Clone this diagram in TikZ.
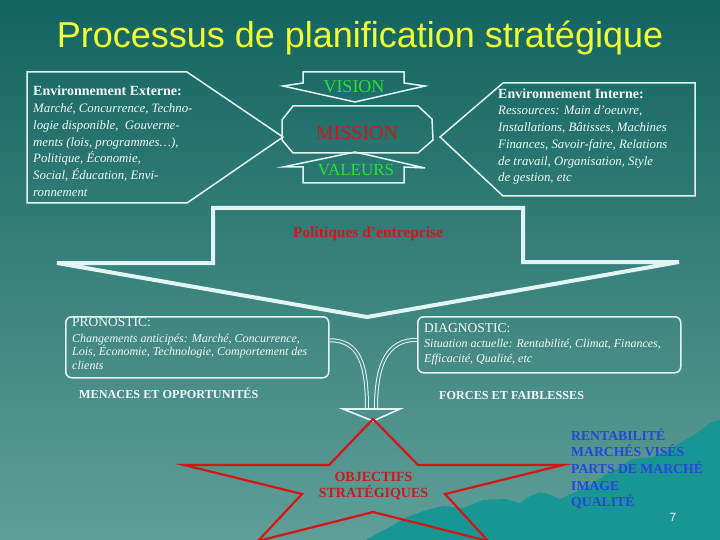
\documentclass[tikz,border=0pt]{standalone}
\usepackage{fontspec}
\setmainfont{Liberation Serif}
\newfontfamily\titlefont{Liberation Sans}
\definecolor{bgtop}{RGB}{18,100,96}
\definecolor{bgbot}{RGB}{96,158,152}
\definecolor{bgmid}{RGB}{73,141,135}
\definecolor{mount}{RGB}{24,150,148}
\definecolor{lineclr}{RGB}{225,245,245}
\definecolor{txtclr}{RGB}{240,250,250}
\definecolor{ttl}{RGB}{240,255,50}
\definecolor{grn}{RGB}{40,225,50}
\definecolor{redt}{RGB}{200,28,28}
\definecolor{starred}{RGB}{215,20,20}
\definecolor{blu}{RGB}{40,70,220}
\begin{document}
\begin{tikzpicture}[x=1pt,y=-1pt,
  outl/.style={draw=lineclr, line width=1.5pt, line join=miter},
  tx/.style={text=txtclr, inner sep=0pt, anchor=base west},
  hd/.style={tx, font=\fontsize{14}{16}\selectfont\bfseries},
  itx/.style={tx, font=\fontsize{12.8}{16}\selectfont\itshape},
  smit/.style={tx, font=\fontsize{12}{13}\selectfont\itshape},
  smhd/.style={tx, font=\fontsize{13.5}{14}\selectfont},
  capb/.style={tx, font=\fontsize{12.2}{14}\selectfont\bfseries},
  blue/.style={inner sep=0pt, anchor=base west, text=blu, font=\fontsize{13.7}{16}\selectfont\bfseries},
  curvearrow/.style={draw=lineclr, line width=1pt, double=bgmid, double distance=2pt}
]
\useasboundingbox (0,0) rectangle (720,540);
\shade[top color=bgtop, bottom color=bgbot] (0,0) rectangle (720,540);
% mountains
\fill[mount] (366,540) -- (380,532) -- (392,526) -- (405,518) -- (418,513) -- (430,509) -- (443,506) -- (463,508) -- (483,500) -- (505,499) -- (520,503) -- (530,496) -- (540,492) -- (548,494) -- (560,499) -- (575,492) -- (590,485) -- (605,475) -- (620,467) -- (632,459) -- (653,457) -- (668,450) -- (680,443) -- (697,433) -- (710,423) -- (720,420) -- (720,540) -- cycle;

% title
\node[inner sep=0pt, anchor=base, text=ttl, font=\titlefont\fontsize{36}{40}\selectfont] (title) at (360,48) {Processus de planification stratégique};

% external environment
\draw[outl] (27,72) -- (187,72) -- (283,137) -- (187,203) -- (27,203) -- cycle;
\node[hd] (extH) at (33,96) {Environnement Externe:};
\node[itx] (ext1) at (33,112.7) {Marché, Concurrence, Techno-};
\node[itx] (ext2) at (33,129.4) {logie disponible,~ Gouverne-};
\node[itx] (ext3) at (33,146.1) {ments (lois, programmes\ldots),};
\node[itx] (ext4) at (33,162.8) {Politique, Économie,};
\node[itx] (ext5) at (33,179.5) {Social, Éducation, Envi-};
\node[itx] (ext6) at (33,196.2) {ronnement};

% internal environment
\draw[outl] (503,83) -- (695,83) -- (695,196) -- (503,196) -- (440,137) -- cycle;
\node[hd] (intH) at (498,98.3) {Environnement Interne:};
\node[itx] (int1) at (498,115) {Ressources: Main d'oeuvre,};
\node[itx] (int2) at (498,131.7) {Installations, Bâtisses, Machines};
\node[itx] (int3) at (498,148.4) {Finances, Savoir-faire, Relations};
\node[itx] (int4) at (498,165.1) {de travail, Organisation, Style};
\node[itx] (int5) at (498,181.8) {de gestion, etc};

% vision / mission / valeurs
\draw[outl] (303,72) -- (404,72) -- (404,83) -- (425,86) -- (355,102) -- (283,86) -- (303,83) -- cycle;
\node[inner sep=0pt, anchor=base, text=grn, font=\fontsize{18}{20}\selectfont] (vision) at (354,92.5) {VISION};
\draw[outl] (293,106) -- (418,106) -- (432,119) -- (433,140) -- (418,153) -- (293,153) -- (282,140) -- (282,120) -- cycle;
\node[inner sep=0pt, anchor=base, text=redt, font=\fontsize{20}{22}\selectfont] (mission) at (357,140) {MISSION};
\draw[outl] (355,152) -- (425,168) -- (404,167) -- (404,183) -- (303,183) -- (303,167) -- (283,167) -- cycle;
\node[inner sep=0pt, anchor=base, text=grn, font=\fontsize{17}{19}\selectfont] (valeurs) at (356,175.5) {VALEURS};

% politiques d'entreprise big arrow
\draw[draw=lineclr, line width=4pt, line join=miter] (213,208) -- (523,208) -- (523,262) -- (679,262) -- (367,317) -- (57,263) -- (213,263) -- cycle;
\node[inner sep=0pt, anchor=base, text=redt, font=\fontsize{15.5}{17}\selectfont\bfseries] (polit) at (368,237) {Politiques d'entreprise};

% pronostic
\node[outl, rounded corners=6pt, minimum width=263pt, minimum height=61pt, anchor=north west, inner sep=0pt] (pron) at (65,316) {};
\node[smhd] (pronH) at (72,326.5) {PRONOSTIC:};
\node[smit] (pron1) at (72,342.5) {Changements anticipés: Marché, Concurrence,};
\node[smit] (pron2) at (72,355.8) {Lois, Économie, Technologie, Comportement des};
\node[smit] (pron3) at (72,369) {clients};
\node[capb] (menaces) at (79,398.5) {MENACES ET OPPORTUNITÉS};

% diagnostic
\node[outl, rounded corners=6pt, minimum width=263pt, minimum height=56pt, anchor=north west, inner sep=0pt] (diag) at (417,316) {};
\node[smhd] (diagH) at (424,332.5) {DIAGNOSTIC:};
\node[smit] (diag1) at (424,347) {Situation actuelle: Rentabilité, Climat, Finances,};
\node[smit] (diag2) at (424,362.5) {Efficacité, Qualité, etc};
\node[capb] (forces) at (439,399) {FORCES ET FAIBLESSES};

% converging arrows
\coordinate (headL) at (367,409);
\coordinate (headR) at (376,409);
\draw[curvearrow] ([yshift=7pt]pron.east) .. controls +(30,0) and +(0,-45) .. (headL);
\draw[curvearrow] ([yshift=5pt]diag.west) .. controls +(-30,0) and +(0,-45) .. (headR);
\draw[outl, line width=1.6pt] (343,409) -- (400,409) -- (373,421) -- cycle;

% star
\draw[draw=starred, line width=2.2pt, line join=miter] (373,419) -- (418,465) -- (563,465) -- (445,494) -- (488,541) -- (373,512) -- (258,541) -- (302,494) -- (184,465) -- (329,465) -- cycle;
\node[inner sep=0pt, anchor=base, text=redt, font=\fontsize{14}{16}\selectfont\bfseries] (obj1) at (373.5,481.7) {OBJECTIFS};
\node[inner sep=0pt, anchor=base, text=redt, font=\fontsize{14}{16}\selectfont\bfseries] (obj2) at (373.5,497.7) {STRATÉGIQUES};

% results list
\node[blue] (r1) at (571,440) {RENTABILITÉ};
\node[blue] (r2) at (571,456.7) {MARCHÉS VISÉS};
\node[blue] (r3) at (571,473.3) {PARTS DE MARCHÉ};
\node[blue] (r4) at (571,490) {IMAGE};
\node[blue] (r5) at (571,506.7) {QUALITÉ};

\node[inner sep=0pt, anchor=base, text=txtclr, font=\titlefont\fontsize{12}{14}\selectfont] (page) at (673,521.7) {7};
\end{tikzpicture}
\end{document}
